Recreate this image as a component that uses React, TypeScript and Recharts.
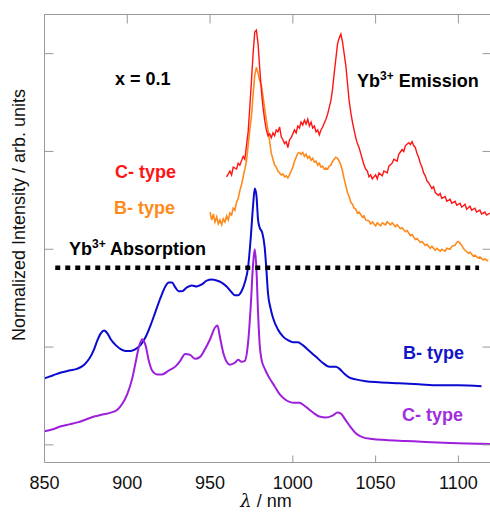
import React from "react";
import { LineChart, Line, XAxis, YAxis, Customized } from "recharts";

// wavelength (nm) / normalized intensity pairs
const cTypeEmission: [number, number][] = [
  [960, 2.74], [962, 2.8], [963, 2.76], [964, 2.84], [966, 2.82], [967, 2.88], [968, 2.86],
  [970, 2.95], [971, 2.92], [972, 3.06], [973, 3.2], [974, 3.45], [975, 3.72], [976, 4.0],
  [977, 4.22], [978, 4.24], [979, 4.1], [980, 3.85], [981, 3.62], [982, 3.45], [983, 3.32],
  [984, 3.22], [985, 3.16], [986, 3.18], [987, 3.14], [988, 3.19], [989, 3.16], [990, 3.22],
  [991, 3.2], [992, 3.25], [993, 3.15], [994, 3.12], [995, 3.08], [996, 3.1], [997, 3.04],
  [998, 3.12], [999, 3.14], [1000, 3.18], [1001, 3.22], [1002, 3.19], [1003, 3.26], [1004, 3.24],
  [1005, 3.3], [1006, 3.27], [1007, 3.32], [1008, 3.28], [1009, 3.33], [1010, 3.26], [1011, 3.3],
  [1012, 3.24], [1013, 3.26], [1014, 3.2], [1015, 3.22], [1016, 3.17], [1017, 3.22], [1018, 3.25],
  [1019, 3.29], [1020, 3.33], [1021, 3.38], [1022, 3.45], [1023, 3.52], [1024, 3.64], [1025, 3.8],
  [1026, 3.95], [1027, 4.1], [1028, 4.16], [1029, 4.2], [1030, 4.12], [1031, 4.0], [1032, 3.88],
  [1033, 3.7], [1034, 3.52], [1035, 3.4], [1036, 3.3], [1037, 3.22], [1038, 3.14], [1039, 3.08],
  [1040, 3.04], [1041, 2.98], [1042, 2.92], [1043, 2.86], [1044, 2.82], [1045, 2.8], [1046, 2.74],
  [1047, 2.76], [1048, 2.72], [1050, 2.76], [1051, 2.72], [1052, 2.78], [1054, 2.75], [1055, 2.8],
  [1057, 2.78], [1058, 2.85], [1060, 2.88], [1061, 2.92], [1063, 2.9], [1064, 2.97], [1066, 3.02],
  [1067, 3.0], [1068, 3.06], [1070, 3.09], [1071, 3.07], [1072, 3.1], [1073, 3.06], [1074, 3.04],
  [1075, 2.98], [1076, 2.94], [1077, 2.88], [1078, 2.84], [1079, 2.78], [1080, 2.75], [1081, 2.7],
  [1082, 2.68], [1084, 2.62], [1085, 2.64], [1086, 2.58], [1088, 2.55], [1089, 2.57], [1090, 2.52],
  [1092, 2.54], [1093, 2.49], [1095, 2.51], [1096, 2.47], [1098, 2.49], [1099, 2.45], [1101, 2.47],
  [1102, 2.43], [1104, 2.46], [1105, 2.41], [1107, 2.44], [1108, 2.4], [1110, 2.42], [1111, 2.38],
  [1113, 2.4], [1114, 2.36], [1116, 2.38], [1117, 2.35], [1119, 2.37],
];

const bTypeEmission: [number, number][] = [
  [950, 2.38], [951, 2.3], [952, 2.36], [953, 2.28], [954, 2.33], [955, 2.26], [956, 2.3],
  [957, 2.25], [958, 2.31], [959, 2.28], [960, 2.34], [961, 2.3], [962, 2.37], [963, 2.35],
  [964, 2.42], [965, 2.4], [966, 2.48], [967, 2.52], [968, 2.6], [969, 2.66], [970, 2.74],
  [971, 2.82], [972, 2.9], [973, 3.06], [974, 3.22], [975, 3.36], [976, 3.58], [977, 3.78],
  [978, 3.86], [979, 3.8], [980, 3.72], [981, 3.68], [982, 3.56], [983, 3.44], [984, 3.32],
  [985, 3.22], [986, 3.1], [987, 2.98], [988, 2.92], [989, 2.86], [990, 2.84], [991, 2.8],
  [992, 2.78], [993, 2.76], [994, 2.77], [995, 2.74], [996, 2.75], [997, 2.73], [998, 2.76],
  [999, 2.8], [1000, 2.84], [1001, 2.9], [1002, 2.94], [1003, 2.98], [1004, 2.99], [1005, 2.97],
  [1006, 2.99], [1007, 2.95], [1008, 2.97], [1009, 2.93], [1010, 2.95], [1011, 2.91], [1012, 2.93],
  [1013, 2.89], [1014, 2.9], [1015, 2.86], [1016, 2.88], [1017, 2.84], [1018, 2.85], [1019, 2.82],
  [1020, 2.83], [1021, 2.82], [1022, 2.85], [1023, 2.86], [1024, 2.9], [1025, 2.92], [1026, 2.94],
  [1027, 2.93], [1028, 2.9], [1029, 2.86], [1030, 2.8], [1031, 2.72], [1032, 2.65], [1033, 2.58],
  [1034, 2.54], [1035, 2.48], [1036, 2.46], [1037, 2.42], [1038, 2.41], [1039, 2.37], [1040, 2.38],
  [1042, 2.33], [1043, 2.34], [1044, 2.3], [1046, 2.29], [1047, 2.26], [1048, 2.28], [1050, 2.24],
  [1051, 2.27], [1053, 2.24], [1054, 2.27], [1056, 2.25], [1057, 2.28], [1059, 2.25], [1060, 2.27],
  [1062, 2.23], [1063, 2.25], [1065, 2.21], [1066, 2.22], [1068, 2.18], [1069, 2.19], [1071, 2.14],
  [1072, 2.15], [1074, 2.1], [1075, 2.11], [1077, 2.07], [1078, 2.08], [1080, 2.04], [1081, 2.05],
  [1083, 2.01], [1084, 2.03], [1086, 1.99], [1087, 2.01], [1089, 1.98], [1090, 2.0], [1092, 1.98],
  [1093, 2.01], [1095, 2.0], [1096, 2.03], [1098, 2.04], [1099, 2.07], [1100, 2.08], [1101, 2.06],
  [1102, 2.04], [1103, 2.01], [1104, 1.99], [1106, 1.96], [1107, 1.97], [1109, 1.93], [1110, 1.94],
  [1112, 1.91], [1113, 1.92], [1115, 1.89], [1116, 1.9], [1118, 1.88],
];

const bTypeAbsorption: [number, number][] = [
  [850, 0.68], [855, 0.71], [860, 0.74], [865, 0.76], [870, 0.78], [874, 0.82], [877, 0.88],
  [880, 0.98], [882, 1.07], [884, 1.14], [886, 1.17], [888, 1.14], [890, 1.08], [893, 1.02],
  [896, 0.98], [899, 0.96], [902, 0.96], [905, 0.98], [908, 1.02], [911, 1.1], [914, 1.22],
  [917, 1.36], [920, 1.5], [923, 1.62], [925, 1.66], [927, 1.66], [929, 1.61], [931, 1.57],
  [933, 1.57], [936, 1.61], [939, 1.63], [942, 1.62], [945, 1.64], [948, 1.68], [951, 1.69],
  [954, 1.68], [957, 1.66], [960, 1.62], [963, 1.56], [965, 1.53], [967, 1.53], [969, 1.57],
  [971, 1.66], [973, 1.82], [974.5, 2.1], [976, 2.45], [977, 2.62], [978, 2.55], [979, 2.3],
  [980, 2.22], [981.5, 2.17], [983, 2.02], [984, 1.8], [985, 1.55], [986.5, 1.4], [988, 1.3],
  [991, 1.18], [994, 1.11], [997, 1.07], [1000, 1.05], [1003, 1.05], [1006, 1.02], [1010, 0.96],
  [1014, 0.9], [1018, 0.84], [1022, 0.8], [1026, 0.8], [1028, 0.78], [1031, 0.73], [1034, 0.69],
  [1038, 0.67], [1044, 0.65], [1052, 0.64], [1064, 0.63], [1076, 0.62], [1088, 0.61], [1100, 0.61],
  [1114, 0.6],
];

const cTypeAbsorption: [number, number][] = [
  [850, 0.14], [855, 0.16], [860, 0.19], [865, 0.21], [870, 0.23], [875, 0.26], [880, 0.29],
  [885, 0.31], [890, 0.33], [894, 0.36], [897, 0.42], [900, 0.52], [903, 0.68], [905, 0.84],
  [907, 1.0], [909, 1.08], [911, 1.02], [913, 0.86], [915, 0.76], [918, 0.72], [921, 0.72],
  [925, 0.76], [929, 0.8], [932, 0.86], [935, 0.93], [938, 0.92], [941, 0.88], [944, 0.9],
  [947, 0.98], [950, 1.08], [953, 1.2], [954.5, 1.22], [956, 1.1], [958, 0.94], [960, 0.85],
  [962, 0.82], [965, 0.84], [967, 0.87], [969, 0.85], [971, 0.86], [973, 1.05], [974.5, 1.4],
  [976, 1.85], [977, 2.0], [978, 1.8], [979, 1.35], [980, 1.02], [981, 0.88], [983, 0.78],
  [986, 0.68], [989, 0.6], [992, 0.52], [995, 0.47], [998, 0.44], [1001, 0.43], [1004, 0.43],
  [1007, 0.4], [1010, 0.36], [1013, 0.32], [1016, 0.29], [1020, 0.28], [1024, 0.3], [1027, 0.33],
  [1029, 0.32], [1032, 0.25], [1035, 0.18], [1038, 0.12], [1042, 0.08], [1048, 0.06], [1056, 0.05],
  [1068, 0.04], [1080, 0.03], [1095, 0.02], [1120, 0.01],
];

// dotted separator between emission and absorption panels
const separator: [number, number][] = [[856.5, 1.81], [1112.5, 1.81]];

const X_DOMAIN: [number, number] = [850, 1120];
const Y_DOMAIN: [number, number] = [-0.18, 4.4];
const xTicks = [850, 900, 950, 1000, 1050, 1100];
const xTickLines = [1000, 1050, 1100];
const yTicks = [0, 1, 2, 3, 4];

const toRows = (pts: [number, number][]) => pts.map(([x, y]) => ({ x, y }));

const FONT = "'Liberation Sans', Arial, Helvetica, sans-serif";
const AXIS = "#999";
const axisLine = { stroke: AXIS, strokeWidth: 1 };
const tickLine = { stroke: AXIS, strokeWidth: 1 };

function BottomTick(props: any) {
  const { x, y, payload } = props;
  return (
    <g>
      {xTickLines.includes(payload.value) && (
        <line x1={x} x2={x} y1={y - 7} y2={y} stroke={AXIS} strokeWidth={1} />
      )}
      <text x={x} y={y + 26} textAnchor="middle" fontSize={18} fontFamily={FONT} fill="#111">
        {payload.value}
      </text>
    </g>
  );
}

const NoLabel = () => <g />;

function Labels() {
  const bold = { fontFamily: FONT, fontWeight: 700, fontSize: 18 };
  return (
    <g>
      <text x={115} y={85} {...bold} fill="#000">x = 0.1</text>
      <text x={357} y={87} {...bold} fill="#000">
        Yb<tspan fontSize={12} dy={-7}>3+</tspan><tspan dy={7}> Emission</tspan>
      </text>
      <text x={115} y={177.5} {...bold} fill="#ff1414">C- type</text>
      <text x={114} y={213.5} {...bold} fill="#ff8a1c">B- type</text>
      <text x={69} y={255} {...bold} fill="#000">
        Yb<tspan fontSize={12} dy={-7}>3+</tspan><tspan dy={7}> Absorption</tspan>
      </text>
      <text x={403} y={359} {...bold} fill="#1414c8">B- type</text>
      <text x={402} y={421} {...bold} fill="#a02ee0">C- type</text>
      <text
        x={25}
        y={215}
        transform="rotate(-90 25 215)"
        textAnchor="middle"
        fontFamily={FONT}
        fontSize={18}
        fill="#111"
      >
        Normalized Intensity / arb. units
      </text>
      <text x={266} y={507} textAnchor="middle" fontFamily={FONT} fontSize={18} fill="#111">
        <tspan fontStyle="italic" fontFamily="'DejaVu Serif', serif">λ</tspan> / nm
      </text>
    </g>
  );
}

export default function App() {
  return (
    <div
      style={{
        position: "fixed",
        top: 0,
        left: 0,
        width: 490,
        height: 513,
        overflow: "hidden",
        background: "#fff",
      }}
    >
      {/* half-pixel margins keep the 1px frame lines crisp */}
      <LineChart width={500} height={513} margin={{ top: 4.5, right: 0.5, bottom: 0, left: 34.5 }}>
        <XAxis
          dataKey="x"
          type="number"
          domain={X_DOMAIN}
          ticks={xTicks}
          interval={0}
          allowDataOverflow
          height={50.5}
          axisLine={axisLine}
          tickLine={false}
          tickSize={0}
          tickMargin={0}
          tick={<BottomTick />}
        />
        <XAxis
          xAxisId="top"
          orientation="top"
          dataKey="x"
          type="number"
          domain={X_DOMAIN}
          ticks={xTicks}
          interval={0}
          allowDataOverflow
          height={10}
          axisLine={axisLine}
          tickLine={tickLine}
          tickSize={-9}
          tick={<NoLabel />}
        />
        <YAxis
          type="number"
          domain={Y_DOMAIN}
          ticks={yTicks}
          interval={0}
          allowDataOverflow
          width={10}
          axisLine={axisLine}
          tickLine={tickLine}
          tickSize={-9}
          tick={<NoLabel />}
        />
        <YAxis
          yAxisId="r"
          orientation="right"
          type="number"
          domain={Y_DOMAIN}
          ticks={yTicks}
          interval={0}
          allowDataOverflow
          width={8}
          axisLine={axisLine}
          tickLine={tickLine}
          tickSize={-9}
          tick={<NoLabel />}
        />
        <Line
          data={toRows(bTypeEmission)}
          dataKey="y"
          stroke="#ff8a1c"
          strokeWidth={1.6}
          dot={false}
          isAnimationActive={false}
        />
        <Line
          data={toRows(cTypeEmission)}
          dataKey="y"
          stroke="#ff1414"
          strokeWidth={1.4}
          dot={false}
          isAnimationActive={false}
        />
        <Line
          data={toRows(bTypeAbsorption)}
          type="monotone"
          dataKey="y"
          stroke="#0a0ad0"
          strokeWidth={2}
          dot={false}
          isAnimationActive={false}
        />
        <Line
          data={toRows(cTypeAbsorption)}
          type="monotone"
          dataKey="y"
          stroke="#9d1fdc"
          strokeWidth={2}
          dot={false}
          isAnimationActive={false}
        />
        <Line
          xAxisId="top"
          yAxisId="r"
          data={toRows(separator)}
          dataKey="y"
          stroke="#000"
          strokeWidth={4.5}
          strokeDasharray="5 5"
          dot={false}
          isAnimationActive={false}
        />
        <Customized component={Labels} />
      </LineChart>
    </div>
  );
}
